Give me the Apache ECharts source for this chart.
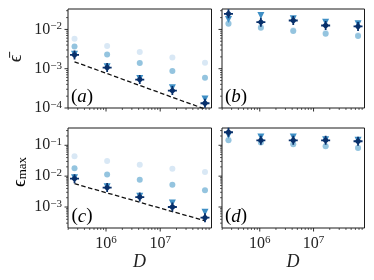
<!DOCTYPE html>
<html>
<head>
<meta charset="utf-8">
<script src="https://cdn.jsdelivr.net/npm/echarts@6/dist/echarts.min.js"></script>
<style>
html,body{margin:0;padding:0;background:#fff;}
#chart{width:374px;height:280px;}
</style>
</head>
<body>
<div id="chart"></div>
<script>
// ---- data ----
const D = [262144, 1048576, 4194304, 16777216, 67108864];

const a_vlight = [5.8e-3, 3.8e-3, 2.66e-3, 1.92e-3, 1.41e-3];
const a_light  = [3.7e-3, 2.29e-3, 1.40e-3, 8.8e-4, 5.9e-4];
const a_tri    = [2.35e-3, 1.12e-3, 5.6e-4, 3.3e-4, 1.7e-4];
const a_dia    = [2.24e-3, 1.07e-3, 5.3e-4, 2.77e-4, 1.32e-4];
const a_ref    = [1.5e-3, 7.5e-4, 3.75e-4, 1.87e-4, 9.4e-5];

const b_vlight = [1.45e-2, 1.15e-2, 9.5e-3, 8.2e-3, 7.1e-3];
const b_light  = [1.4e-2, 1.1e-2, 9.1e-3, 7.8e-3, 6.8e-3];
const b_tri    = [1.8e-2, 2.26e-2, 1.86e-2, 1.53e-2, 1.4e-2];
const b_dia    = [2.5e-2, 1.53e-2, 1.69e-2, 1.26e-2, 1.19e-2];

const c_vlight = [4.4e-2, 3.1e-2, 2.36e-2, 1.75e-2, 1.36e-2];
const c_light  = [1.8e-2, 1.14e-2, 7.7e-3, 5.3e-3, 3.5e-3];
const c_tri    = [8.8e-3, 4.5e-3, 2.25e-3, 1.35e-3, 6.8e-4];
const c_dia    = [8.3e-3, 4.25e-3, 2.1e-3, 1.0e-3, 4.5e-4];
const c_ref    = [5.7e-3, 2.85e-3, 1.43e-3, 7.1e-4, 3.6e-4];

const d_vlight = [0.15, 0.125, 0.11, 0.095, 0.084];
const d_light  = [0.145, 0.122, 0.108, 0.093, 0.082];
const d_tri    = [0.21, 0.186, 0.186, 0.15, 0.145];
const d_dia    = [0.264, 0.145, 0.145, 0.145, 0.135];

const panelLabels = ['(a)', '(b)', '(c)', '(d)'];
const xMajor = [1e6, 1e7];
const yMajorTop = [1e-4, 1e-3, 1e-2];
const yMajorBot = [1e-3, 1e-2, 1e-1];

// ---- layout / style ----
const X_MIN = 1.987e5, X_MAX = 8.85e7;
const YT_MIN = 1e-4, YT_MAX = Math.pow(10, -1.48);
const YB_MIN = Math.pow(10, -3.68), YB_MAX = Math.pow(10, -0.44);
const FONT = '"Liberation Serif", "DejaVu Serif", serif';
const C_VL = '#d9e8f5', C_L = '#94c4df', C_T = '#3f8fc5', C_D = '#08306b';
const DIAPLUS = 'path://M4,0L6,0L6,2L8,4L10,4L10,6L8,6L6,8L6,10L4,10L4,8L2,6L0,6L0,4L2,4L4,2Z';

const grids = [
  {left: 68, top: 9, width: 143.5, height: 99},
  {left: 222, top: 9, width: 142.5, height: 99},
  {left: 68, top: 128, width: 143.5, height: 100},
  {left: 222, top: 128, width: 142.5, height: 100}
].map(g => Object.assign(g, {show: true, borderColor: '#1a1a1a', borderWidth: 1, containLabel: false}));

function powLabel(v) {
  const l = Math.log10(v), e = Math.round(l);
  if (Math.abs(l - e) > 1e-6) return '';
  return '{b|10}{s|' + (e < 0 ? '\u2212' + (-e) : e) + '}';
}
const richLab = {
  b: {fontFamily: FONT, fontSize: 16, color: '#222'},
  s: {fontFamily: FONT, fontSize: 11, color: '#222', verticalAlign: 'top', padding: [0, 0, 6, 0]}
};

function xAxis(i, show) {
  return {type: 'log', gridIndex: i, min: X_MIN, max: X_MAX, logBase: 10,
    axisLine: {show: false}, axisTick: {show: false}, splitLine: {show: false},
    axisLabel: {show: show, formatter: powLabel, rich: richLab, margin: 7}};
}
function yAxis(i, lo, hi, show) {
  return {type: 'log', gridIndex: i, min: lo, max: hi, logBase: 10,
    axisLine: {show: false}, axisTick: {show: false}, splitLine: {show: false},
    axisLabel: {show: show, formatter: powLabel, rich: richLab, margin: 6}};
}

function pairs(arr) { return arr.map((v, k) => [D[k], v]); }

function minorList(lo, hi) {
  const out = [];
  for (let e = Math.floor(Math.log10(lo)); e <= Math.ceil(Math.log10(hi)); e++) {
    for (let m = 2; m <= 9; m++) {
      const v = m * Math.pow(10, e);
      if (v >= lo && v <= hi) out.push(v);
    }
  }
  return out;
}

function tickSeries(i, yLo, yHi, yMaj) {
  const data = [];
  xMajor.forEach(v => data.push([v, yLo, 0]));
  minorList(X_MIN, X_MAX).forEach(v => data.push([v, yLo, 1]));
  yMaj.forEach(v => data.push([X_MIN, v, 2]));
  minorList(yLo, yHi).forEach(v => data.push([X_MIN, v, 3]));
  return {
    type: 'custom', xAxisIndex: i, yAxisIndex: i, silent: true, clip: false, z: 10,
    data: data,
    renderItem: function (params, api) {
      const cs = params.coordSys;
      const p = api.coord([api.value(0), api.value(1)]);
      const k = api.value(2);
      const len = (k === 0 || k === 2) ? 3.5 : 2;
      const w = (k === 0 || k === 2) ? 0.9 : 0.7;
      let shape;
      if (k < 2) {
        const yb = cs.y + cs.height;
        shape = {x1: p[0], y1: yb, x2: p[0], y2: yb + len};
      } else {
        shape = {x1: cs.x - len, y1: p[1], x2: cs.x, y2: p[1]};
      }
      return {type: 'line', shape: shape, style: {stroke: '#1a1a1a', lineWidth: w}};
    }
  };
}

function scatter(i, arr, color, symbol, size, rot) {
  return {type: 'scatter', xAxisIndex: i, yAxisIndex: i, data: pairs(arr),
    symbol: symbol, symbolSize: size, symbolRotate: rot || 0,
    itemStyle: {color: color, opacity: 1}, silent: true, z: 3};
}
function refLine(i, arr) {
  return {type: 'line', xAxisIndex: i, yAxisIndex: i, data: pairs(arr), showSymbol: false,
    symbol: 'none', lineStyle: {color: '#111', width: 1.3, type: [4.5, 2.5]}, silent: true, z: 2};
}

const panels = [
  [a_vlight, a_light, a_tri, a_dia, a_ref],
  [b_vlight, b_light, b_tri, b_dia, null],
  [c_vlight, c_light, c_tri, c_dia, c_ref],
  [d_vlight, d_light, d_tri, d_dia, null]
];

const series = [];
panels.forEach((p, i) => {
  if (p[4]) series.push(refLine(i, p[4]));
  series.push(scatter(i, p[0], C_VL, 'circle', 6));
  series.push(scatter(i, p[1], C_L, 'circle', 6));
  series.push(scatter(i, p[2], C_T, 'triangle', 7, 180));
  series.push(scatter(i, p[3], C_D, DIAPLUS, 9));
  const top = i < 2;
  series.push(tickSeries(i, top ? YT_MIN : YB_MIN, top ? YT_MAX : YB_MAX, top ? yMajorTop : yMajorBot));
});

const graphic = [];
const labPos = [[82, 97], [236, 97], [82, 216.5], [236, 216.5]];
panelLabels.forEach((t, i) => {
  graphic.push({type: 'text', x: labPos[i][0], y: labPos[i][1], silent: true, z: 20,
    style: {text: '{p|(}{l|' + t.slice(1, 2) + '}{p|)}', align: 'center', verticalAlign: 'middle',
      rich: {p: {fontFamily: FONT, fontSize: 19, color: '#222'},
             l: {fontFamily: FONT, fontSize: 19, fontStyle: 'italic', color: '#222'}}}});
});
// axis titles
graphic.push({type: 'text', x: 139.5, y: 262, silent: true,
  style: {text: 'D', font: 'italic 18px ' + FONT, fill: '#222', align: 'center', verticalAlign: 'middle'}});
graphic.push({type: 'text', x: 293, y: 262, silent: true,
  style: {text: 'D', font: 'italic 18px ' + FONT, fill: '#222', align: 'center', verticalAlign: 'middle'}});
graphic.push({type: 'text', x: 16, y: 58.5, rotation: Math.PI / 2, silent: true,
  style: {text: '\u03F5\u0304', font: '19px ' + FONT, fill: '#222', align: 'center', verticalAlign: 'middle'}});
graphic.push({type: 'text', x: 20, y: 172, rotation: Math.PI / 2, silent: true,
  style: {text: '{e|\u03F5}{m|max}', align: 'center', verticalAlign: 'middle',
    rich: {e: {fontFamily: FONT, fontSize: 19, color: '#222'},
           m: {fontFamily: FONT, fontSize: 13, color: '#222', verticalAlign: 'bottom', padding: [6, 0, 0, 0]}}}});

const chart = echarts.init(document.getElementById('chart'), null, {renderer: 'canvas'});
chart.setOption({
  animation: false,
  backgroundColor: '#fff',
  grid: grids,
  xAxis: [xAxis(0, false), xAxis(1, false), xAxis(2, true), xAxis(3, true)],
  yAxis: [yAxis(0, YT_MIN, YT_MAX, true), yAxis(1, YT_MIN, YT_MAX, false),
          yAxis(2, YB_MIN, YB_MAX, true), yAxis(3, YB_MIN, YB_MAX, false)],
  series: series,
  graphic: graphic
});
</script>
</body>
</html>
